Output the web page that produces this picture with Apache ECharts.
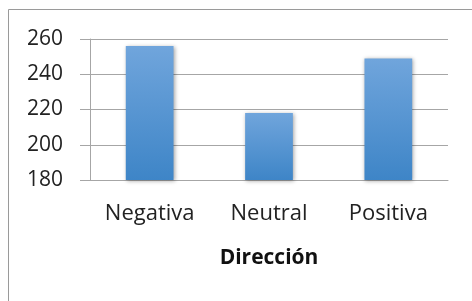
<!DOCTYPE html>
<html><head><meta charset="utf-8">
<script src="https://cdn.jsdelivr.net/npm/echarts@6/dist/echarts.min.js"></script>
<style>html,body{margin:0;padding:0;background:#fff}#c{width:472px;height:301px}</style>
</head><body><div id="c"></div>
<script>
const categories = ['Negativa', 'Neutral', 'Positiva'];
const values = [256, 218, 249];
const yTicks = [180, 200, 220, 240, 260];
const axisName = 'Dirección';

const chart = echarts.init(document.getElementById('c'), null, {renderer: 'canvas'});
chart.setOption({
  animation: false,
  backgroundColor: '#fff',
  graphic: [{
    type: 'rect', shape: {x: 8.5, y: 9.5, width: 500, height: 320},
    style: {fill: 'none', stroke: '#9a9a9a', lineWidth: 1}, silent: true
  }],
  grid: {left: 90, right: 24, top: 39, bottom: 121},
  xAxis: {
    type: 'category', data: categories,
    axisLine: {show: true, lineStyle: {color: '#a6a6a6', width: 1}},
    axisTick: {show: false},
    axisLabel: {color: '#222', fontFamily: 'Open Sans', fontSize: 22, margin: 23, interval: 0, hideOverlap: false},
    name: axisName, nameLocation: 'middle', nameGap: 68,
    nameTextStyle: {color: '#111', fontFamily: 'Open Sans', fontSize: 21, fontWeight: 'bold'}
  },
  yAxis: {
    type: 'value', min: yTicks[0], max: yTicks[yTicks.length - 1], interval: 20,
    axisLine: {show: true, lineStyle: {color: '#a6a6a6', width: 1}},
    axisTick: {show: true, length: 10, lineStyle: {color: '#a6a6a6'}},
    splitLine: {show: true, lineStyle: {color: '#a6a6a6', width: 1}},
    axisLabel: {color: '#222', fontFamily: 'Open Sans', fontSize: 21, margin: 27}
  },
  series: [{
    type: 'bar', data: values, barWidth: '40%',
    itemStyle: {
      color: {type: 'linear', x: 0, y: 0, x2: 0, y2: 1, colorStops: [
        {offset: 0, color: '#70a5dc'}, {offset: 1, color: '#3e85c7'}]},
      shadowColor: 'rgba(0,0,0,0.35)', shadowBlur: 4, shadowOffsetX: 1, shadowOffsetY: 1
    }
  }]
});
</script></body></html>
